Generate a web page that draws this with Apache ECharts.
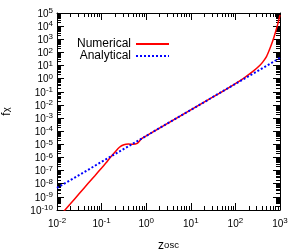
<!DOCTYPE html>
<html><head><meta charset="utf-8">
<script src="https://cdn.jsdelivr.net/npm/echarts@6/dist/echarts.min.js"></script>
<style>html,body{margin:0;padding:0;background:#fff}#c{width:300px;height:252px}</style>
</head><body><div id="c"></div>
<script>
// Numerical solution
const numZ = [0.014, 0.02, 0.0316, 0.05, 0.0708, 0.1, 0.126, 0.158, 0.2, 0.251, 0.316, 0.398, 0.5, 0.631, 0.759, 0.891, 1, 3.16, 10, 31.6, 63.1, 100, 158, 251, 355, 417, 501, 603, 708, 794, 891, 1000];
const numF = [7.4e-11, 2.95e-10, 1.78e-9, 1.07e-8, 4.07e-8, 1.58e-7, 3.98e-7, 1.05e-6, 2.63e-6, 6.03e-6, 9.3e-6, 1.05e-5, 1.0e-5, 1.17e-5, 2.4e-5, 3.55e-5, 4.37e-5, 4.27e-4, 4.17e-3, 0.0407, 0.158, 0.417, 1.17, 3.72, 10.5, 20, 50, 224, 1000, 3550, 14100, 70800];
// Analytical estimate
const anaZ = [0.01, 0.1, 1, 10, 100, 1000];
const anaF = [4.8e-9, 4.6e-7, 4.4e-5, 4.2e-3, 0.40, 38];
// Ticks
const xTicks = [0.01, 0.1, 1, 10, 100, 1000];
const yTicks = [1e-10, 1e-9, 1e-8, 1e-7, 1e-6, 1e-5, 1e-4, 1e-3, 1e-2, 1e-1, 1, 10, 100, 1e3, 1e4, 1e5];
const seriesNames = ['Numerical', 'Analytical'];

function minorOf(majors) {
  const out = [];
  for (let i = 0; i < majors.length - 1; i++) {
    for (let m = 2; m <= 9; m++) out.push(Number((majors[i] * m).toPrecision(3)));
  }
  return out;
}
const xMinor = minorOf(xTicks);
const yMinor = minorOf(yTicks);

const FONT = 'Liberation Sans';
const labelRich = {
  b: { fontSize: 10, lineHeight: 12, verticalAlign: 'bottom', color: '#000', fontFamily: FONT },
  s: { fontSize: 8, lineHeight: 6, verticalAlign: 'top', color: '#000', fontFamily: FONT }
};
function fmt(v) {
  const e = Math.round(Math.log10(v));
  return '{b|10}{s|' + e + '}';
}
const black = { color: '#000', width: 1 };

function axis(dim, pos, major, opts) {
  const ax = {
    type: 'log', logBase: 10,
    min: dim === 'x' ? xTicks[0] : yTicks[0],
    max: dim === 'x' ? xTicks[xTicks.length - 1] : yTicks[yTicks.length - 1],
    position: pos,
    axisLine: { show: major, onZero: false, lineStyle: black },
    axisTick: { show: true, inside: true, length: major ? 7 : 4,
      customValues: major ? (dim === 'x' ? xTicks : yTicks) : (dim === 'x' ? xMinor : yMinor),
      lineStyle: black },
    axisLabel: { show: false },
    splitLine: { show: false },
    axisPointer: { show: false }
  };
  return Object.assign(ax, opts || {});
}

const xAxes = [
  axis('x', 'bottom', true, {
    axisLabel: { show: true, customValues: xTicks, formatter: fmt, margin: 7, rich: labelRich },
    name: '{z|z}{o|osc}', nameLocation: 'middle', nameGap: 30,
    nameTextStyle: { rich: {
      z: { fontSize: 12, lineHeight: 14, verticalAlign: 'top', color: '#000', fontFamily: FONT },
      o: { fontSize: 9.5, lineHeight: 21, verticalAlign: 'top', color: '#000', fontFamily: FONT } } }
  }),
  axis('x', 'bottom', false),
  axis('x', 'top', true),
  axis('x', 'top', false)
];
const yAxes = [
  axis('y', 'left', true, {
    axisLabel: { show: true, customValues: yTicks, formatter: fmt, margin: 4, rich: labelRich },
    name: '{f|f}{c|χ}', nameLocation: 'middle', nameGap: 36, nameRotate: 90,
    nameTextStyle: { rich: {
      f: { fontSize: 12, lineHeight: 14, verticalAlign: 'top', color: '#000', fontFamily: FONT },
      c: { fontSize: 9.5, lineHeight: 20, verticalAlign: 'top', color: '#000', fontFamily: FONT } } }
  }),
  axis('y', 'left', false),
  axis('y', 'right', true),
  axis('y', 'right', false)
];

const legendCommon = {
  orient: 'vertical', align: 'right', right: 130,
  itemWidth: 33, itemHeight: 10, itemGap: 0, padding: 0,
  itemStyle: { opacity: 0, borderWidth: 0 },
  textStyle: { fontSize: 12, color: '#000', fontFamily: FONT }
};

const chart = echarts.init(document.getElementById('c'), null, { renderer: 'canvas' });
chart.setOption({
  animation: false,
  backgroundColor: '#fff',
  textStyle: { fontFamily: FONT },
  grid: { left: 57, right: 20, top: 13, bottom: 42, containLabel: false, outerBoundsMode: 'none' },
  legend: [
    Object.assign({ data: [seriesNames[0]], top: 38 }, legendCommon),
    Object.assign({ data: [seriesNames[1]], top: 50 }, legendCommon)
  ],
  xAxis: xAxes,
  yAxis: yAxes,
  series: [
    { name: seriesNames[0], type: 'line', xAxisIndex: 0, yAxisIndex: 0,
      data: numZ.map((z, i) => [z, numF[i]]), symbol: 'none', showSymbol: false, smooth: 0.2,
      lineStyle: { color: '#ff0000', width: 1.5 }, itemStyle: { color: '#ff0000' }, clip: true },
    { name: seriesNames[1], type: 'line', xAxisIndex: 0, yAxisIndex: 0,
      data: anaZ.map((z, i) => [z, anaF[i]]), symbol: 'none', showSymbol: false,
      lineStyle: { color: '#0000ff', width: 2, type: [2, 2] }, itemStyle: { color: '#0000ff' }, clip: true }
  ]
});
</script></body></html>
